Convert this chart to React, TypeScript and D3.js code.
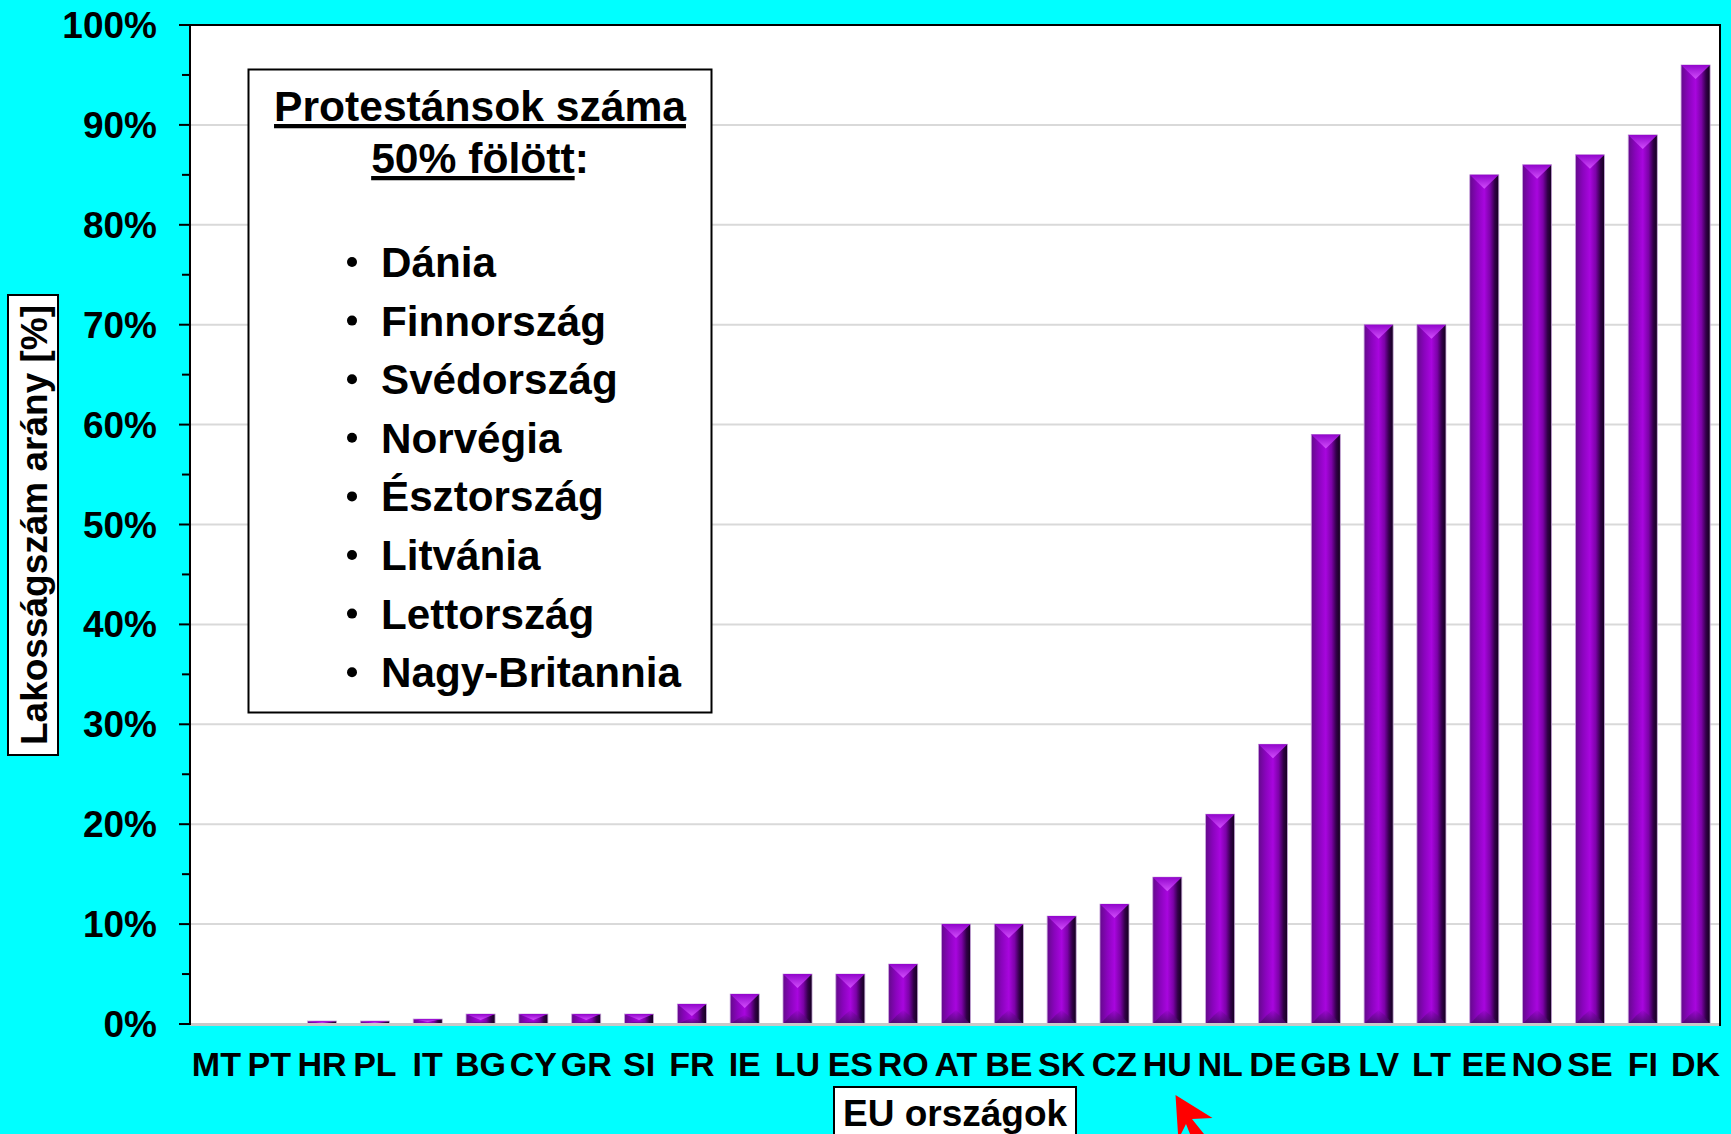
// App.tsx
import React from 'react';
import * as d3 from 'd3';

const categories = ['MT', 'PT', 'HR', 'PL', 'IT', 'BG', 'CY', 'GR', 'SI', 'FR', 'IE', 'LU', 'ES', 'RO', 'AT', 'BE', 'SK', 'CZ', 'HU', 'NL', 'DE', 'GB', 'LV', 'LT', 'EE', 'NO', 'SE', 'FI', 'DK'];
const protestantShare = [0, 0, 0.3, 0.3, 0.5, 1, 1, 1, 1, 2, 3, 5, 5, 6, 10, 10, 10.8, 12, 14.7, 21, 28, 59, 70, 70, 85, 86, 87, 89, 96];
const noteTitle = ['Protestánsok száma', '50% fölött'];
const noteItems = ['Dánia', 'Finnország', 'Svédország', 'Norvégia', 'Észtország', 'Litvánia', 'Lettország', 'Nagy-Britannia'];
const yTitle = 'Lakosságszám arány [%]';
const xTitle = 'EU országok';

const width = 1731;
const height = 1134;
const font = '"Liberation Sans", Arial, sans-serif';

const x = d3.scaleBand<string>().domain(categories).range([190, 1722]).paddingInner(0.45).paddingOuter(0.225);
const y = d3.scaleLinear().domain([0, 100]).range([1024, 25]);
const majorTicks = y.ticks(10);
const minorTicks = y.ticks(20).filter(t => t % 10 !== 0);

const underline = { textDecorationThickness: '4px' };

const App = () => {
  const barWidth = x.bandwidth();
  return (
    <svg width={width} height={height} viewBox={`0 0 ${width} ${height}`}
      style={{ position: 'absolute', left: 0, top: 0, display: 'block', background: '#00ffff' }}
      fontFamily={font} fontWeight="bold" fill="#000">
      <defs>
        <linearGradient id="bar-body" x1="0" x2="1" y1="0" y2="0">
          <stop offset="0%" stopColor="#640a8c" />
          <stop offset="25%" stopColor="#8a04bd" />
          <stop offset="50%" stopColor="#a806de" />
          <stop offset="70%" stopColor="#7c02a8" />
          <stop offset="86%" stopColor="#320048" />
          <stop offset="100%" stopColor="#12001c" />
        </linearGradient>
        <linearGradient id="bar-top" x1="0" x2="0" y1="0" y2="1">
          <stop offset="0%" stopColor="#9205cc" />
          <stop offset="100%" stopColor="#d24dfc" />
        </linearGradient>
        <linearGradient id="bar-bottom" x1="0" x2="0" y1="1" y2="0">
          <stop offset="0%" stopColor="#4a0a6c" stopOpacity={0.9} />
          <stop offset="100%" stopColor="#5a0a80" stopOpacity={0.1} />
        </linearGradient>
      </defs>

      {/* plot area */}
      <rect x={190} y={25} width={1530} height={999} fill="#fff" />
      {majorTicks.filter(t => t > 0 && t < 100).map(t => (
        <line key={t} x1={190} x2={1720} y1={y(t)} y2={y(t)} stroke="#d9d9d9" strokeWidth={2} />
      ))}

      {/* bars */}
      {categories.map((c, i) => {
        const v = protestantShare[i];
        if (v <= 0) return null;
        const x0 = x(c) as number;
        const x1 = x0 + barWidth;
        const xm = x0 + barWidth / 2;
        const top = y(v);
        const base = y(0);
        const h = base - top;
        const cap = Math.min(14, h * 0.6);
        const foot = Math.min(14, h * 0.3);
        return (
          <g key={c}>
            <rect x={x0} y={top} width={barWidth} height={h} fill="url(#bar-body)" stroke="#c9a6dc" strokeWidth={0.8} />
            <path d={`M${x0},${base}L${x0 + 8},${base - foot * 0.6}L${xm},${base - foot}L${x1 - 8},${base - foot * 0.6}L${x1},${base}Z`} fill="url(#bar-bottom)" />
            <path d={`M${x0},${top}L${x1},${top}L${xm},${top + cap}Z`} fill="url(#bar-top)" />
          </g>
        );
      })}

      {/* axes */}
      <line x1={190} x2={1720} y1={1024.5} y2={1024.5} stroke="#c8c8c8" strokeWidth={3} />
      <line x1={190} x2={1720} y1={25} y2={25} stroke="#000" strokeWidth={2} />
      <line x1={1720} x2={1720} y1={24} y2={1026} stroke="#000" strokeWidth={2} />
      <line x1={190} x2={190} y1={24} y2={1025} stroke="#000" strokeWidth={2} />
      {majorTicks.map(t => (
        <g key={t}>
          <line x1={179} x2={190} y1={y(t)} y2={y(t)} stroke="#000" strokeWidth={2} />
          <text x={157} y={y(t) + 13} textAnchor="end" fontSize={37}>{t}%</text>
        </g>
      ))}
      {minorTicks.map(t => (
        <line key={t} x1={182} x2={190} y1={y(t)} y2={y(t)} stroke="#000" strokeWidth={2} />
      ))}
      {categories.map(c => (
        <text key={c} x={(x(c) as number) + barWidth / 2} y={1076} textAnchor="middle" fontSize={34}>{c}</text>
      ))}

      {/* axis titles */}
      <rect x={8} y={295} width={50} height={460} fill="#fff" stroke="#000" strokeWidth={2} />
      <text transform="translate(47,745) rotate(-90)" fontSize={37}>{yTitle}</text>
      <rect x={834} y={1087} width={242} height={60} fill="#fff" stroke="#000" strokeWidth={2} />
      <text x={843} y={1126} fontSize={37}>{xTitle}</text>

      {/* note box */}
      <rect x={248.5} y={69.5} width={463} height={643} fill="#fff" stroke="#000" strokeWidth={2} />
      <text x={480} y={121} textAnchor="middle" fontSize={42.6} textDecoration="underline" style={underline}>{noteTitle[0]}</text>
      <text x={480} y={173} textAnchor="middle" fontSize={42.6}>
        <tspan textDecoration="underline" style={underline}>{noteTitle[1]}</tspan>:
      </text>
      {noteItems.map((item, i) => (
        <g key={item}>
          <circle cx={352} cy={262 + i * 58.6} r={5} />
          <text x={381} y={277 + i * 58.6} fontSize={42.2}>{item}</text>
        </g>
      ))}

      {/* red pointer at HU */}
      <path d="M1175.5,1095L1212.5,1118L1192,1119L1204,1134L1190,1134L1186,1124L1181,1134L1178,1134Z" fill="#ff0000" />
    </svg>
  );
};

export default App;
